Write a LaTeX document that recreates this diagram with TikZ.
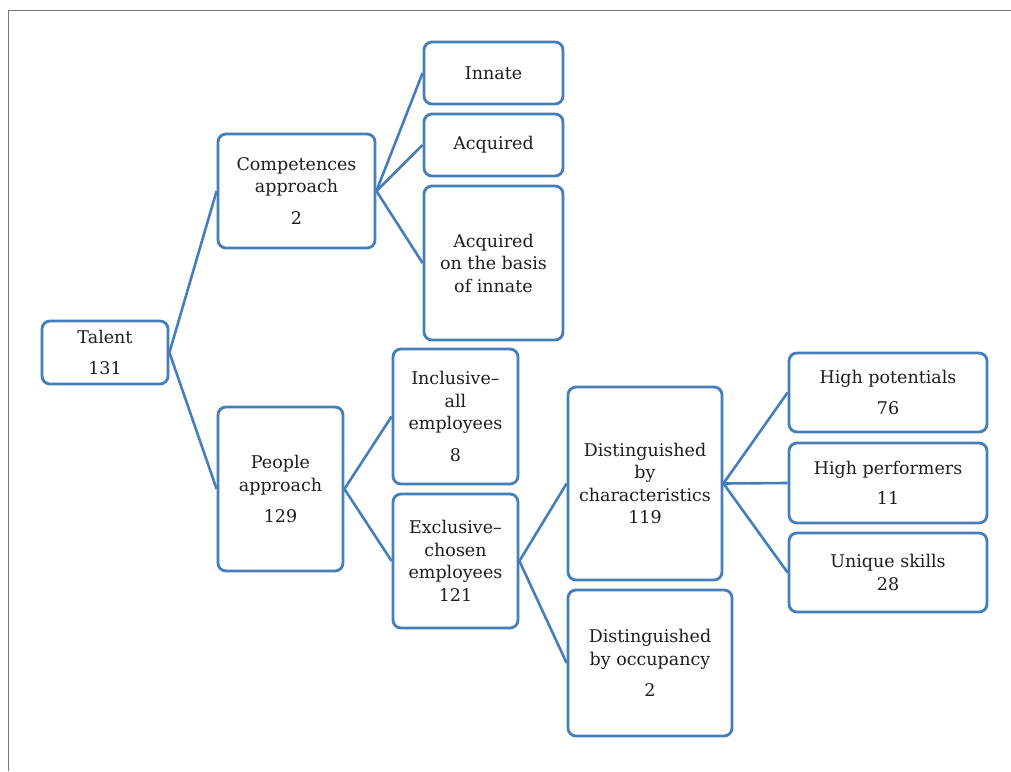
\documentclass[tikz,border=0pt]{standalone}
\usepackage{fontspec}
\setmainfont{DejaVu Serif}
\definecolor{boxblue}{RGB}{70,126,187}
\definecolor{framegray}{RGB}{120,120,120}
\definecolor{txt}{RGB}{30,30,30}
\begin{document}
\begin{tikzpicture}[x=1pt,y=-1pt,
  box/.style={draw=boxblue,line width=2.8pt,rounded corners=8pt,fill=white,
    inner sep=0pt,align=center,text=txt,
    font=\fontsize{17.5}{22.5}\selectfont},
  conn/.style={draw=boxblue,line width=2.6pt}]
\useasboundingbox (0,0) rectangle (1011,771);
\draw[framegray,line width=1pt] (8,771) -- (8,10) -- (1011,10);

\node[box,minimum width=126pt,minimum height=63pt] (talent) at (105,352.5) {Talent\\[9pt]131};
\node[box,minimum width=157pt,minimum height=114pt] (comp) at (296.5,191) {Competences\\approach\\[9pt]2};
\node[box,minimum width=139pt,minimum height=62pt] (innate) at (493.5,73) {Innate};
\node[box,minimum width=139pt,minimum height=62pt] (acq) at (493.5,145) {Acquired};
\node[box,minimum width=139pt,minimum height=154pt] (acqb) at (493.5,263) {Acquired\\on the basis\\of innate};
\node[box,minimum width=125pt,minimum height=164pt] (people) at (280.5,489) {People\\approach\\[9pt]129};
\node[box,minimum width=125pt,minimum height=135pt] (incl) at (455.5,416.5) {Inclusive--\\all\\employees\\[9pt]8};
\node[box,minimum width=125pt,minimum height=134pt] (excl) at (455.5,561) {Exclusive--\\chosen\\employees\\121};
\node[box,minimum width=154pt,minimum height=193pt] (dchar) at (645,483.5) {Distinguished\\by\\characteristics\\119};
\node[box,minimum width=164pt,minimum height=146pt] (docc) at (650,663) {Distinguished\\by occupancy\\[9pt]2};
\node[box,minimum width=198pt,minimum height=79pt] (hpot) at (888,392.5) {High potentials\\[8pt]76};
\node[box,minimum width=198pt,minimum height=80pt] (hperf) at (888,483) {High performers\\[8pt]11};
\node[box,minimum width=198pt,minimum height=79pt] (uniq) at (888,572.5) {Unique skills\\28};

\draw[conn] (talent.east) -- (comp.west);
\draw[conn] (talent.east) -- (people.west);
\draw[conn] (comp.east) -- (innate.west);
\draw[conn] (comp.east) -- (acq.west);
\draw[conn] (comp.east) -- (acqb.west);
\draw[conn] (people.east) -- (incl.west);
\draw[conn] (people.east) -- (excl.west);
\draw[conn] (excl.east) -- (dchar.west);
\draw[conn] (excl.east) -- (docc.west);
\draw[conn] (dchar.east) -- (hpot.west);
\draw[conn] (dchar.east) -- (hperf.west);
\draw[conn] (dchar.east) -- (uniq.west);
\end{tikzpicture}
\end{document}
